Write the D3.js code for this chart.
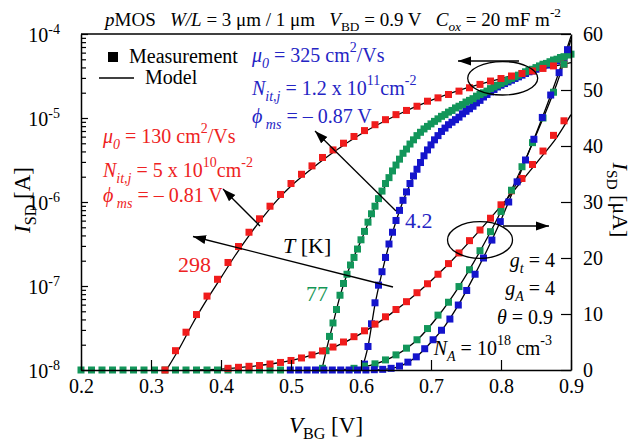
<!DOCTYPE html>
<html>
<head>
<meta charset="utf-8">
<script src="https://cdn.jsdelivr.net/npm/d3@7"></script>
<style>
  body { margin: 0; background: #fff; }
</style>
</head>
<body>
<div id="chart"></div>
<script>
// measured points, [V_BG (V), log10 I_SD (A)] for the left (log) axis
var blueLog = [[0.605,-7.93],[0.61,-7.72],[0.615,-7.45],[0.62,-7.20],[0.625,-6.99],[0.63,-6.83],[0.635,-6.66],[0.64,-6.50],
  [0.645,-6.36],[0.65,-6.22],[0.655,-6.10],[0.66,-5.98],[0.665,-5.88],[0.67,-5.78],[0.675,-5.69],[0.68,-5.61],[0.685,-5.53],
  [0.69,-5.45],[0.695,-5.38],[0.70,-5.32],[0.705,-5.26],[0.71,-5.21],[0.715,-5.16],[0.72,-5.12],[0.725,-5.08],[0.73,-5.05],
  [0.735,-5.02],[0.74,-4.99],[0.745,-4.95],[0.75,-4.92],[0.755,-4.89],[0.76,-4.86],[0.765,-4.82],[0.77,-4.79],[0.775,-4.75],
  [0.78,-4.72],[0.785,-4.69],[0.79,-4.66],[0.795,-4.63],[0.80,-4.61],[0.805,-4.59],[0.81,-4.57],[0.815,-4.55],[0.82,-4.53],
  [0.825,-4.51],[0.83,-4.49],[0.835,-4.47],[0.84,-4.45],[0.845,-4.44],[0.85,-4.42],[0.855,-4.40],[0.86,-4.38],[0.865,-4.37],
  [0.87,-4.35],[0.875,-4.33],[0.88,-4.32],[0.885,-4.30],[0.89,-4.29]];
var greenLog = [[0.2,-8],[0.215,-8],[0.23,-8],[0.245,-8],[0.26,-8],[0.275,-8],[0.29,-8],[0.305,-8],[0.32,-8],[0.335,-8],
  [0.35,-8],[0.365,-8],[0.38,-8],[0.395,-8],[0.41,-8],[0.425,-8],[0.44,-8],[0.455,-8],[0.47,-8],[0.485,-8],
  [0.545,-7.98],[0.55,-7.77],[0.555,-7.60],[0.56,-7.44],[0.565,-7.28],[0.57,-7.11],[0.575,-6.97],[0.58,-6.86],[0.585,-6.75],
  [0.59,-6.66],[0.595,-6.56],[0.60,-6.45],[0.605,-6.35],[0.61,-6.24],[0.615,-6.14],[0.62,-6.05],[0.625,-5.96],[0.63,-5.87],
  [0.635,-5.78],[0.64,-5.71],[0.645,-5.63],[0.65,-5.56],[0.655,-5.49],[0.66,-5.42],[0.665,-5.37],[0.67,-5.31],[0.675,-5.26],
  [0.68,-5.21],[0.685,-5.17],[0.69,-5.13],[0.695,-5.10],[0.70,-5.07],[0.705,-5.04],[0.71,-5.01],[0.715,-4.98],[0.72,-4.96],
  [0.725,-4.93],[0.73,-4.91],[0.735,-4.88],[0.74,-4.86],[0.745,-4.84],[0.75,-4.81],[0.755,-4.79],[0.76,-4.77],[0.765,-4.74],
  [0.77,-4.72],[0.775,-4.70],[0.78,-4.68],[0.785,-4.65],[0.79,-4.63],[0.795,-4.61],[0.80,-4.59],[0.805,-4.57],[0.81,-4.55],
  [0.815,-4.53],[0.82,-4.51],[0.825,-4.49],[0.83,-4.47],[0.835,-4.45],[0.84,-4.43],[0.845,-4.42],[0.85,-4.40],[0.855,-4.38],
  [0.86,-4.36],[0.865,-4.35],[0.87,-4.33],[0.875,-4.31],[0.88,-4.30],[0.885,-4.28],[0.89,-4.27],[0.895,-4.25],[0.90,-4.24]];
var redLog = [[0.32,-8],[0.335,-7.77],[0.35,-7.55],[0.365,-7.34],[0.38,-7.12],[0.395,-6.92],[0.41,-6.72],[0.425,-6.53],
  [0.44,-6.36],[0.455,-6.20],[0.47,-6.05],[0.485,-5.91],[0.50,-5.78],[0.515,-5.67],[0.53,-5.57],[0.545,-5.47],[0.56,-5.38],
  [0.575,-5.30],[0.59,-5.22],[0.605,-5.15],[0.62,-5.08],[0.635,-5.02],[0.65,-4.96],[0.665,-4.91],[0.68,-4.86],[0.695,-4.80],
  [0.71,-4.76],[0.725,-4.72],[0.74,-4.68],[0.755,-4.64],[0.77,-4.60],[0.785,-4.56],[0.80,-4.53],[0.815,-4.50],[0.83,-4.47],
  [0.845,-4.44],[0.86,-4.41],[0.875,-4.38],[0.89,-4.36]];

// measured points, [V_BG (V), I_SD (uA)] for the right (linear) axis
var redLin = [[0.41,0.3],[0.425,0.48],[0.44,0.66],[0.455,0.8],[0.47,1.07],[0.485,1.35],[0.50,1.7],[0.515,2.15],[0.53,2.7],
  [0.545,3.4],[0.56,4.1],[0.575,5.0],[0.59,5.95],[0.605,7.0],[0.62,8.2],[0.635,9.5],[0.65,10.8],[0.665,12.2],[0.68,13.8],
  [0.695,15.4],[0.71,17.1],[0.725,19.0],[0.74,20.9],[0.755,23.1],[0.77,25.0],[0.785,27.1],[0.80,29.5],[0.815,32.0],
  [0.83,34.2],[0.845,36.7],[0.86,39.1],[0.875,41.9],[0.89,44.5]];
var greenLin = [[0.59,0.3],[0.605,0.7],[0.62,1.1],[0.635,1.8],[0.65,2.7],[0.665,3.9],[0.68,5.4],[0.695,7.4],[0.71,9.8],
  [0.725,12.1],[0.74,14.9],[0.755,17.9],[0.77,21.3],[0.785,24.7],[0.80,28.3],[0.815,32.1],[0.83,36.3],[0.845,40.6],
  [0.86,45.0],[0.875,49.6],[0.89,54.6]];
var blueLin = [[0.499,0],[0.511,0],[0.523,0],[0.535,0],[0.547,0],[0.559,0],[0.571,0],[0.583,0],[0.595,0],[0.607,0],
  [0.619,0.05],[0.631,0.12],[0.643,0.3],[0.655,0.7],[0.667,1.4],[0.679,2.35],[0.691,3.8],[0.703,5.4],[0.715,7.1],
  [0.727,9.1],[0.739,11.6],[0.751,14.2],[0.763,17.1],[0.775,20.0],[0.787,23.2],[0.799,26.5],[0.811,30.0],[0.823,33.6],
  [0.835,37.5],[0.847,41.2],[0.859,45.1],[0.871,49.1],[0.883,53.1],[0.895,57.2]];

// model curves (black lines), same units
var modelRedLog = [[0.322,-8],[0.34,-7.75],[0.36,-7.44],[0.38,-7.16],[0.40,-6.90],[0.42,-6.64],[0.44,-6.40],[0.46,-6.18],
  [0.48,-5.98],[0.50,-5.81],[0.53,-5.60],[0.56,-5.41],[0.60,-5.19],[0.65,-4.97],[0.70,-4.79],[0.75,-4.645],[0.80,-4.53],
  [0.85,-4.43],[0.90,-4.34]];
var modelGreenLog = [[0.544,-8],[0.55,-7.78],[0.56,-7.45],[0.57,-7.12],[0.58,-6.86],[0.59,-6.65],[0.60,-6.46],[0.62,-6.06],
  [0.64,-5.72],[0.66,-5.43],[0.68,-5.21],[0.70,-5.07],[0.74,-4.86],[0.78,-4.68],[0.82,-4.51],[0.86,-4.36],[0.90,-4.24]];
var modelBlueLog = [[0.601,-8],[0.61,-7.72],[0.62,-7.22],[0.63,-6.84],[0.64,-6.51],[0.65,-6.23],[0.66,-5.99],[0.67,-5.79],
  [0.68,-5.61],[0.69,-5.46],[0.70,-5.33],[0.72,-5.13],[0.74,-4.99],[0.77,-4.79],[0.80,-4.61],[0.83,-4.49],[0.86,-4.38],
  [0.90,-4.27]];
var modelRedLin = [[0.36,0],[0.40,0.15],[0.44,0.6],[0.48,1.25],[0.52,2.3],[0.56,4.0],[0.60,6.5],[0.64,9.8],[0.68,13.7],
  [0.72,18.3],[0.76,23.6],[0.80,29.3],[0.83,33.8],[0.86,38.4],[0.88,41.6],[0.90,45.6]];
var modelGreenLin = [[0.56,0],[0.59,0.25],[0.62,1.05],[0.65,2.65],[0.68,5.35],[0.71,9.6],[0.74,14.9],[0.77,21.2],
  [0.80,28.3],[0.83,36.2],[0.86,44.9],[0.88,51.2],[0.90,59.0]];
var modelBlueLin = [[0.615,0],[0.64,0.2],[0.66,0.9],[0.68,2.45],[0.70,4.95],[0.72,7.9],[0.74,11.8],[0.76,16.4],
  [0.78,21.4],[0.80,26.8],[0.82,32.8],[0.84,39.0],[0.86,45.4],[0.88,52.2],[0.90,59.6]];

// axis ticks
var xTicks = [0.2, 0.3, 0.4, 0.5, 0.6, 0.7, 0.8, 0.9];
var logTicks = [1e-8, 1e-7, 1e-6, 1e-5, 1e-4];
var linTicks = [0, 10, 20, 30, 40, 50, 60];

var FONT = '"Liberation Serif", "Times New Roman", Times, serif';
var RED = '#f01c1c', GREEN = '#12965a', BLUE = '#1414cc';
var RED_T = '#ee2222', GREEN_T = '#149656', BLUE_T = '#2424c4';

var svg = d3.select('#chart').append('svg').attr('width', 634).attr('height', 445)
  .attr('font-family', FONT);
svg.append('rect').attr('width', 634).attr('height', 445).attr('fill', '#fff');

var x = d3.scaleLinear().domain([0.2, 0.9]).range([81, 571]);
var yLog = d3.scaleLog().domain([1e-8, 1e-4]).range([370, 34]);
var yLin = d3.scaleLinear().domain([0, 60]).range([370, 34]);

var defs = svg.append('defs');
defs.append('marker').attr('id', 'head').attr('viewBox', '0 -5 13 10')
  .attr('refX', 13).attr('refY', 0).attr('markerWidth', 13).attr('markerHeight', 10)
  .attr('markerUnits', 'userSpaceOnUse').attr('orient', 'auto')
  .append('path').attr('d', 'M0,-4.5L13,0L0,4.5Z').attr('fill', '#000');

// rich text: parts = [[text, style]], style: i, sub, sup, isub, isup
function rich(parent, px, py, parts, size, color, anchor) {
  var t = parent.append('text').attr('x', px).attr('y', py)
    .attr('font-family', FONT).attr('font-size', size).attr('fill', color || '#000')
    .attr('text-anchor', anchor || 'start').style('white-space', 'pre');
  var shift = 0;
  parts.forEach(function(p) {
    var st = p[1] || '';
    var target = 0, fs = null;
    if (st.indexOf('sub') >= 0) { target = size * 0.28; fs = size * 0.7; }
    if (st.indexOf('sup') >= 0) { target = -size * 0.48; fs = size * 0.7; }
    var ts = t.append('tspan').attr('dy', target - shift).text(p[0]);
    if (fs) ts.attr('font-size', fs);
    if (st.charAt(0) === 'i') ts.attr('font-style', 'italic');
    shift = target;
  });
  return t;
}

var lineLog = d3.line().x(function(d) { return x(d[0]); })
  .y(function(d) { return yLog(Math.pow(10, d[1])); }).curve(d3.curveMonotoneX);
var lineLin = d3.line().x(function(d) { return x(d[0]); })
  .y(function(d) { return yLin(d[1]); }).curve(d3.curveMonotoneX);

var plot = svg.append('g');

[modelRedLog, modelGreenLog, modelBlueLog].forEach(function(m) {
  plot.append('path').attr('d', lineLog(m)).attr('fill', 'none').attr('stroke', '#000').attr('stroke-width', 1.3);
});
[modelRedLin, modelGreenLin, modelBlueLin].forEach(function(m) {
  plot.append('path').attr('d', lineLin(m)).attr('fill', 'none').attr('stroke', '#000').attr('stroke-width', 1.3);
});

var S = 7;
function squares(data, isLog, color) {
  plot.append('g').selectAll('rect').data(data).enter().append('rect')
    .attr('x', function(d) { return x(d[0]) - S / 2; })
    .attr('y', function(d) { return (isLog ? yLog(Math.pow(10, d[1])) : yLin(d[1])) - S / 2; })
    .attr('width', S).attr('height', S).attr('fill', color);
}
squares(blueLog, true, BLUE);
squares(greenLog, true, GREEN);
squares(redLog, true, RED);
squares(redLin, false, RED);
squares(greenLin, false, GREEN);
squares(blueLin, false, BLUE);

// axes
var axB = svg.append('g').attr('transform', 'translate(0,370)')
  .call(d3.axisBottom(x).tickValues(xTicks).tickFormat(d3.format('.1f')).tickSizeInner(-10).tickSizeOuter(0).tickPadding(9));
var axL = svg.append('g').attr('transform', 'translate(81,0)')
  .call(d3.axisLeft(yLog).tickValues(logTicks).tickFormat(function() { return '10'; })
    .tickSizeInner(-7).tickSizeOuter(0).tickPadding(21));
axL.selectAll('.tick text').append('tspan').attr('dy', '-0.55em').attr('font-size', 14)
  .text(function(d) { return Math.round(Math.log10(d)); });
var minors = [];
logTicks.slice(0, -1).forEach(function(t) { for (var k = 2; k <= 9; k++) minors.push(t * k); });
svg.append('g').attr('transform', 'translate(81,0)')
  .call(d3.axisLeft(yLog).tickValues(minors).tickFormat('').tickSizeInner(-5).tickSizeOuter(0))
  .select('.domain').remove();
var axR = svg.append('g').attr('transform', 'translate(571,0)')
  .call(d3.axisRight(yLin).tickValues(linTicks).tickSizeInner(-10).tickSizeOuter(0).tickPadding(12));
svg.append('line').attr('x1', 81).attr('x2', 571).attr('y1', 34).attr('y2', 34)
  .attr('stroke', '#000').attr('stroke-width', 1.5);

svg.selectAll('g').filter(function() { return this.getAttribute('font-family') === 'sans-serif'; })
  .attr('font-family', FONT);
svg.selectAll('.domain').attr('stroke-width', 1.5);
svg.selectAll('.tick line').attr('stroke-width', 1.2);
[axB, axL, axR].forEach(function(a) {
  a.selectAll('.tick text').attr('font-size', 20).attr('font-family', FONT).attr('fill', '#000');
});
axL.selectAll('.tick text').attr('dy', '0.36em');

// axis titles
rich(svg, 326, 433, [['V', 'i'], ['BG', 'sub'], [' [V]']], 23, '#000', 'middle');
var lt = svg.append('g').attr('transform', 'translate(30,200) rotate(-90)');
rich(lt, 0, 0, [['I', 'i'], ['SD', 'sub'], [' [A]']], 23, '#000', 'middle');
var rt = svg.append('g').attr('transform', 'translate(613,200) rotate(90)');
rich(rt, 0, 0, [['I', 'i'], ['SD', 'sub'], [' [\u03bcA]']], 22, '#000', 'middle');

// title
rich(svg, 333, 26, [['p', 'i'], ['MOS\u2002 '], ['W/L', 'i'], [' = 3 \u03bcm / 1 \u03bcm\u2002 '], ['V', 'i'], ['BD', 'sub'],
  [' = 0.9 V\u2002 '], ['C', 'i'], ['ox', 'isub'], [' = 20 mF m'], ['-2', 'sup']], 19, '#000', 'middle');

// legend
svg.append('rect').attr('x', 108).attr('y', 52).attr('width', 10).attr('height', 10).attr('fill', '#000');
rich(svg, 129, 63, [['Measurement']], 20, '#000');
svg.append('line').attr('x1', 99).attr('x2', 134).attr('y1', 78).attr('y2', 78).attr('stroke', '#000').attr('stroke-width', 1.3);
rich(svg, 145, 84, [['Model']], 20, '#000');

// parameter blocks
rich(svg, 252, 62, [['\u03bc', 'i'], ['0', 'isub'], [' = 325 cm'], ['2', 'sup'], ['/Vs']], 20, BLUE_T);
rich(svg, 252, 95, [['N', 'i'], ['it,j', 'isub'], [' = 1.2 x 10'], ['11', 'sup'], ['cm'], ['-2', 'sup']], 20, BLUE_T);
rich(svg, 252, 123, [['\u03d5', 'i'], [' ms', 'isub'], [' = \u2013 0.87 V']], 20, BLUE_T);
rich(svg, 103, 143, [['\u03bc', 'i'], ['0', 'isub'], [' = 130 cm'], ['2', 'sup'], ['/Vs']], 20, RED_T);
rich(svg, 103, 177, [['N', 'i'], ['it,j', 'isub'], [' = 5 x 10'], ['10', 'sup'], ['cm'], ['-2', 'sup']], 20, RED_T);
rich(svg, 103, 202, [['\u03d5', 'i'], [' ms', 'isub'], [' = \u2013 0.81 V']], 20, RED_T);

rich(svg, 178, 272, [['298']], 22, RED_T);
rich(svg, 306, 301, [['77']], 22, GREEN_T);
rich(svg, 405, 228, [['4.2']], 22, BLUE_T);
rich(svg, 283, 253, [['T', 'i'], [' [K]']], 22, '#000');

rich(svg, 555, 267, [['g', 'i'], ['t', 'isub'], [' = 4']], 20, '#000', 'end');
rich(svg, 555, 295, [['g', 'i'], ['A', 'isub'], [' = 4']], 20, '#000', 'end');
rich(svg, 553, 324, [['\u03b8', 'i'], [' = 0.9']], 20, '#000', 'end');
rich(svg, 552, 355, [['N', 'i'], ['A', 'isub'], [' = 10'], ['18', 'sup'], [' cm'], ['-3', 'sup']], 20, '#000', 'end');

// ellipses and arrows
var ann = svg.append('g').attr('fill', 'none').attr('stroke', '#000').attr('stroke-width', 1.3);
ann.append('ellipse').attr('cx', 502.7).attr('cy', 78.3).attr('rx', 35).attr('ry', 16.7);
ann.append('ellipse').attr('cx', 480).attr('cy', 240).attr('rx', 32.5).attr('ry', 18.3);
var arrows = [
  [519, 61, 458, 61],
  [503, 226, 549, 226],
  [260, 226, 223, 189],
  [396, 211, 315, 131],
  [393, 287, 193, 236.5]
];
arrows.forEach(function(a) {
  ann.append('line').attr('x1', a[0]).attr('y1', a[1]).attr('x2', a[2]).attr('y2', a[3])
    .attr('marker-end', 'url(#head)');
});
</script>
</body>
</html>
